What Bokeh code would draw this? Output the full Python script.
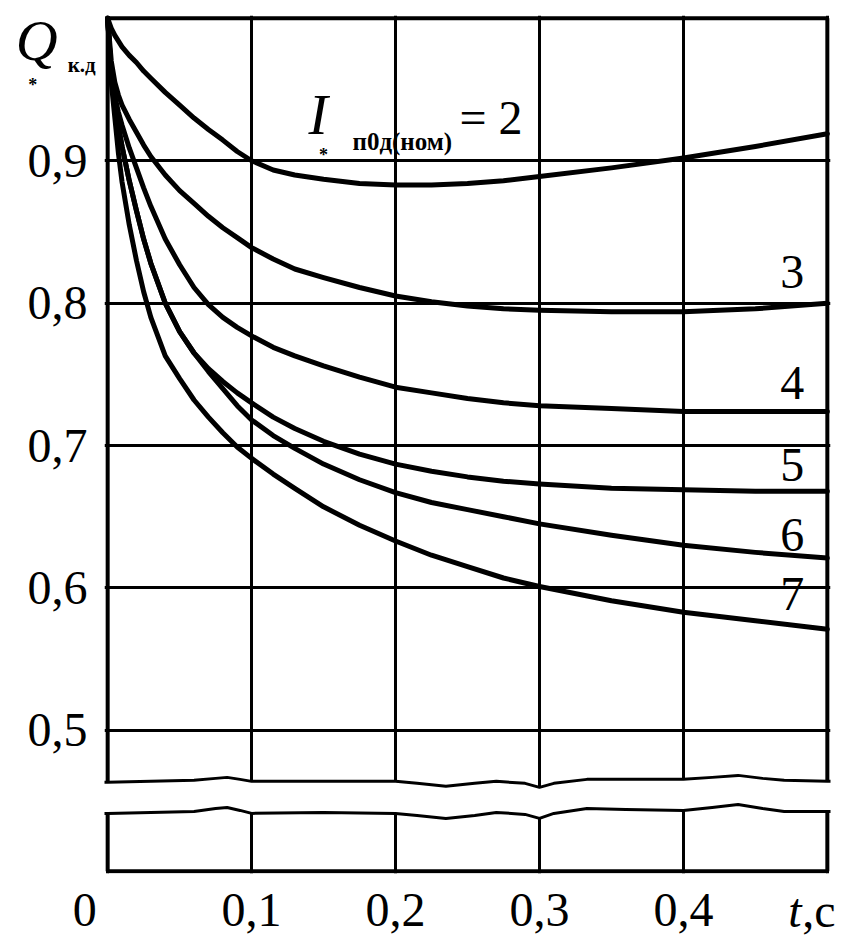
from bokeh.plotting import figure
from bokeh.models import FixedTicker, Range1d, ColumnDataSource
from bokeh.core.properties import value
from bokeh.embed import file_html
from bokeh.resources import INLINE

SERIF = "Liberation Serif"

# time, s
t = [0, 0.0025, 0.005, 0.0075, 0.01, 0.015, 0.02, 0.025, 0.03, 0.04, 0.05, 0.06, 0.07,
     0.08, 0.09, 0.1, 0.115, 0.13, 0.15, 0.175, 0.2, 0.225, 0.25, 0.275, 0.3, 0.35,
     0.4, 0.45, 0.5]
# Q*к.д for I*п0д(ном) = 2 ... 7
q2 = [1.0, 0.993, 0.988, 0.984, 0.980, 0.974, 0.969, 0.963, 0.958, 0.948, 0.939, 0.930, 0.922,
      0.9145, 0.9065, 0.900, 0.8935, 0.890, 0.887, 0.884, 0.883, 0.883, 0.884, 0.886, 0.889, 0.895,
      0.902, 0.910, 0.919]
q3 = [1.0, 0.970, 0.955, 0.946, 0.939, 0.929, 0.920, 0.911, 0.903, 0.890, 0.879, 0.870, 0.861,
      0.853, 0.846, 0.839, 0.831, 0.824, 0.818, 0.811, 0.805, 0.801, 0.798, 0.796, 0.795, 0.794,
      0.794, 0.796, 0.800]
q4 = [1.0, 0.962, 0.945, 0.934, 0.925, 0.909, 0.895, 0.881, 0.868, 0.845, 0.827, 0.811, 0.799,
      0.790, 0.783, 0.777, 0.769, 0.763, 0.756, 0.748, 0.741, 0.737, 0.733, 0.730, 0.728, 0.726,
      0.724, 0.724, 0.724]
q5 = [1.0, 0.960, 0.940, 0.924, 0.910, 0.886, 0.865, 0.845, 0.828, 0.800, 0.780, 0.765, 0.754,
      0.745, 0.737, 0.730, 0.720, 0.712, 0.703, 0.694, 0.687, 0.682, 0.678, 0.675, 0.673, 0.670,
      0.669, 0.668, 0.668]
q6 = [1.0, 0.960, 0.940, 0.924, 0.910, 0.886, 0.865, 0.845, 0.828, 0.800, 0.780, 0.765, 0.752,
      0.740, 0.728, 0.718, 0.707, 0.698, 0.687, 0.676, 0.667, 0.660, 0.655, 0.650, 0.645, 0.637,
      0.630, 0.625, 0.621]
q7 = [1.0, 0.955, 0.930, 0.905, 0.885, 0.855, 0.830, 0.808, 0.790, 0.763, 0.747, 0.732, 0.720,
      0.709, 0.699, 0.691, 0.680, 0.670, 0.657, 0.644, 0.633, 0.623, 0.615, 0.607, 0.601, 0.591,
      0.583, 0.577, 0.571]
curves = [q2, q3, q4, q5, q6, q7]
curve_labels = ["3", "4", "5", "6", "7"]

x_ticks = [0, 0.1, 0.2, 0.3, 0.4, 0.5]
x_tick_labels = ["0", "0,1", "0,2", "0,3", "0,4"]
y_ticks = [0.5, 0.6, 0.7, 0.8, 0.9]
y_tick_labels = ["0,5", "0,6", "0,7", "0,8", "0,9"]

T_MIN, T_MAX = 0.0, 0.5
Q_TOP, Q_BOTTOM = 1.0, 0.401

# axis break (wavy cut lines)
wave_t = [-0.01, 0.0, 0.03, 0.06, 0.075, 0.083, 0.092, 0.1, 0.15, 0.2, 0.215, 0.235, 0.255,
          0.27, 0.29, 0.3, 0.31, 0.333, 0.36, 0.4, 0.42, 0.438, 0.455, 0.47, 0.5, 0.51]
wave_upper = [0.4635, 0.4635, 0.4642, 0.4649, 0.4663, 0.4670, 0.4656, 0.4642, 0.4642, 0.4642,
              0.4628, 0.4607, 0.4628, 0.4642, 0.4628, 0.4600, 0.4628, 0.4656, 0.4656, 0.4656,
              0.4670, 0.4684, 0.4663, 0.4649, 0.4642, 0.4642]
wave_lower = [0.4417, 0.4417, 0.4424, 0.4431, 0.4452, 0.4459, 0.4438, 0.4417, 0.4424, 0.4417,
              0.4403, 0.4382, 0.4403, 0.4424, 0.4410, 0.4382, 0.4417, 0.4452, 0.4445, 0.4438,
              0.4459, 0.4480, 0.4452, 0.4431, 0.4431, 0.4431]

p = figure(width=852, height=936,
           x_range=Range1d(-0.0022, 0.5022), y_range=Range1d(0.3995, 1.002),
           output_backend="svg", toolbar_location=None,
           min_border_left=104, min_border_right=22, min_border_top=15, min_border_bottom=63)
p.outline_line_color = None
p.background_fill_color = "white"
p.border_fill_color = "white"

yax = p.yaxis[0]
yax.axis_line_color = None
yax.major_tick_line_color = None
yax.minor_tick_line_color = None
yax.major_tick_out = 0
yax.major_tick_in = 0
yax.minor_tick_out = 0
yax.major_label_text_font = SERIF
yax.major_label_text_font_size = "48px"
yax.major_label_text_color = "black"
yax.ticker = FixedTicker(ticks=y_ticks)
yax.major_label_overrides = dict(zip(y_ticks, y_tick_labels))
yax.major_label_standoff = 17

p.xaxis.ticker = FixedTicker(ticks=x_ticks)
p.xaxis.visible = False
p.xgrid.ticker = FixedTicker(ticks=x_ticks)
p.ygrid.ticker = FixedTicker(ticks=y_ticks)

for g in (p.xgrid[0], p.ygrid[0]):
    g.grid_line_color = "black"
    g.grid_line_width = 3
    g.grid_line_alpha = 1.0

# curves
for q in curves:
    p.line(t, q, line_color="black", line_width=5, line_join="round", line_cap="round")

# break band
patch_x = wave_t + wave_t[::-1]
patch_y = wave_upper + wave_lower[::-1]
p.patch(patch_x, patch_y, fill_color="white", line_color=None)
p.line(wave_t, wave_upper, line_color="black", line_width=3, line_join="round")
p.line(wave_t, wave_lower, line_color="black", line_width=3, line_join="round")

# frame
fw = 4
p.line([T_MIN, T_MAX], [Q_TOP, Q_TOP], line_color="black", line_width=fw)
p.line([T_MIN, T_MAX], [Q_BOTTOM, Q_BOTTOM], line_color="black", line_width=fw)
for xe, iu, il in ((T_MIN, 1, 1), (T_MAX, -2, -2)):
    p.line([xe, xe], [wave_upper[iu], Q_TOP], line_color="black", line_width=fw)
    p.line([xe, xe], [Q_BOTTOM, wave_lower[il]], line_color="black", line_width=fw)


def txt(x, y, text, size, style="normal", align="left", x_offset=0):
    n = len(text)
    xo = x_offset if isinstance(x_offset, list) else [x_offset] * n
    src = ColumnDataSource(dict(x=x, y=y, text=text, xo=xo))
    p.text(x="x", y="y", text="text", x_offset="xo", source=src,
           text_font=value(SERIF), text_font_size=value(size), text_font_style=style,
           text_align=align, text_baseline="middle", text_color="black", level="overlay")


# curve labels (at the right end of each curve)
txt([0.4757] * 5, [0.8220, 0.7440, 0.6861, 0.6369, 0.5959], curve_labels, "48px", align="center")

# parameter label
txt([0.1396], [0.9326], ["I"], "58px", "italic")
txt([0.1500], [0.9038], ["*"], "18px", "bold", "center")
txt([0.1701], [0.9136], ["п0д(ном)"], "25px", "bold")
txt([0.2444], [0.9301], ["= 2"], "48px")

# y-axis title
txt([-0.0639], [0.9846], ["Q"], "58px", "italic")
txt([-0.0521], [0.9530], ["*"], "18px", "bold", "center")
txt([-0.0278], [0.9672], ["к.д"], "21px", "bold")

# x tick labels and unit
X_LABEL_Y = 0.3736
txt(x_ticks[:5], [X_LABEL_Y] * 5, x_tick_labels, "48px", align="center", x_offset=[-23, 0, 0, 0, 0])
txt([x_ticks[5]], [X_LABEL_Y], ["t"], "48px", "italic", x_offset=-39)
txt([x_ticks[5]], [X_LABEL_Y], [",c"], "48px", x_offset=-25)

open("out.html", "w").write(file_html(p, INLINE))
